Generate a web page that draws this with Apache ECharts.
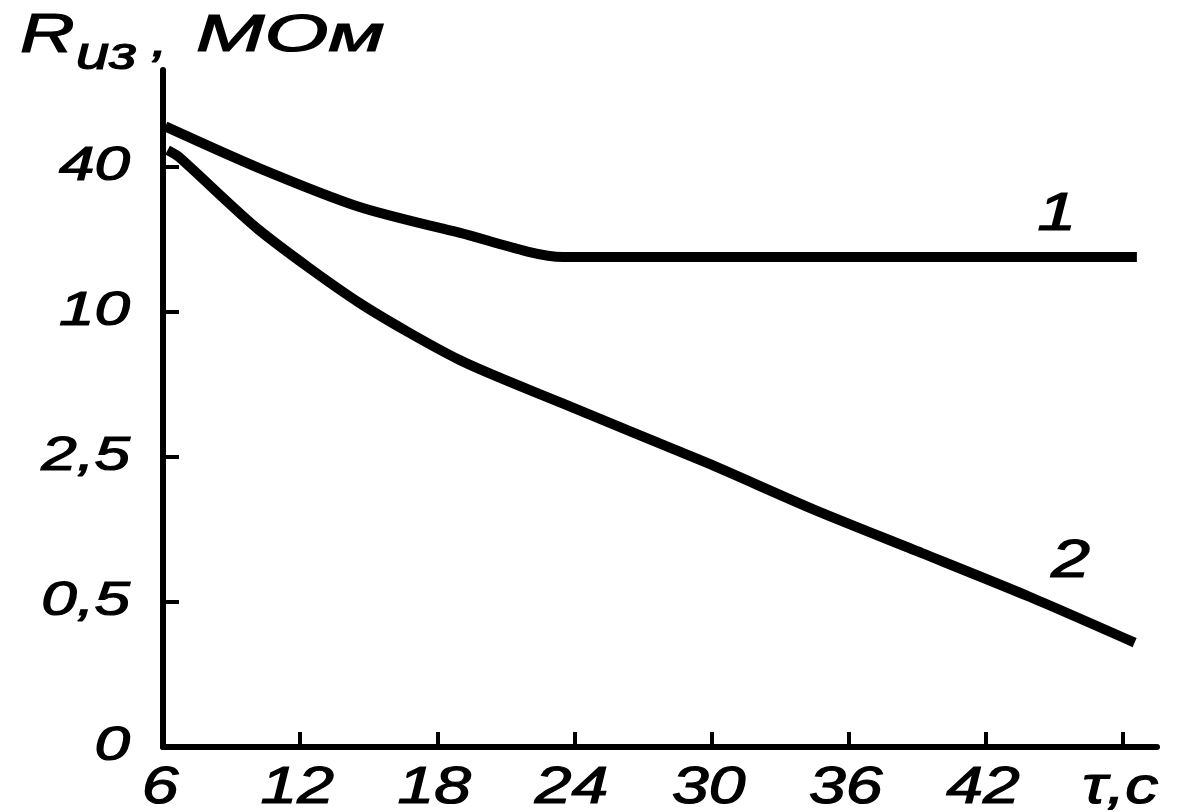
<!DOCTYPE html>
<html>
<head>
<meta charset="utf-8">
<script src="https://cdn.jsdelivr.net/npm/echarts@6/dist/echarts.min.js"></script>
<style>
  html, body { margin: 0; padding: 0; background: #fff; }
  #chart { width: 1186px; height: 812px; }
</style>
</head>
<body>
<div id="chart"></div>
<script>
// time axis, s
var xTicks = [6, 12, 18, 24, 30, 36, 42, 48];
var xTickLabels = ['6', '12', '18', '24', '30', '36', '42', 'τ,c'];
// resistance axis is not linear: each label sits one step higher
var yTickValues = [0, 0.5, 2.5, 10, 40];
var yTickLabels = ['0', '0,5', '2,5', '10', '40'];

// curve 1, [t, R MOm]
var curve1 = [
  [6.1, 59], [10.2, 39.6], [14.6, 27.3], [19.0, 21.3], [23.5, 16.9], [48.6, 16.9]
];
// curve 2, [t, R MOm]
var curve2 = [
  [6.2, 47], [6.7, 44], [10.2, 21.9], [14.6, 10.9], [19.0, 6.3], [23.4, 4.2],
  [29.8, 2.34], [34.5, 1.39], [39.2, 0.86], [43.9, 0.53], [48.5, 0.36]
];
// curve numbers and where they are written
var curveNames = ['1', '2'];
var namePoints = [[45.1, 25.3], [45.7, 0.78]];

// value in MOm -> step on the drawn axis (log inside each step, linear below 0,5)
function toAxis(v) {
  for (var i = 1; i < yTickValues.length; i++) {
    var a = yTickValues[i - 1], b = yTickValues[i];
    if (v <= b || i == yTickValues.length - 1) {
      if (a == 0) return (i - 1) + v / b;
      return (i - 1) + Math.log(v / a) / Math.log(b / a);
    }
  }
}
function mapCurve(c) {
  return c.map(function (p) { return [p[0], toAxis(p[1])]; });
}
var yTickSteps = yTickValues.map(function (v, i) { return i; });

var family = '"Liberation Sans", Arial, sans-serif';
var chart = echarts.init(document.getElementById('chart'), null, { renderer: 'canvas' });

// the lettering in the picture is wide, so text is stretched sideways
function txt(str, x, y, size, sx, align) {
  return {
    type: 'text',
    x: x, y: y,
    scaleX: sx,
    silent: true,
    style: {
      text: str,
      fontFamily: family,
      fontStyle: 'italic',
      fontSize: size,
      fill: '#000',
      stroke: '#000',
      lineWidth: 1.2,
      align: align, textAlign: align,
      verticalAlign: 'middle', textVerticalAlign: 'middle'
    }
  };
}

var option = {
  backgroundColor: '#fff',
  animation: false,
  grid: { left: 163, top: 70, right: 29, bottom: 65, containLabel: false },
  xAxis: {
    type: 'value',
    min: 6,
    max: 49.48,
    axisLine: { show: true, lineStyle: { color: '#000', width: 6 } },
    axisTick: {
      show: true, inside: true, length: 15,
      customValues: xTicks,
      lineStyle: { color: '#000', width: 4 }
    },
    axisLabel: { show: false },
    splitLine: { show: false }
  },
  yAxis: {
    type: 'value',
    min: 0,
    max: 4.669,
    axisLine: { show: true, lineStyle: { color: '#000', width: 6 } },
    // inside ticks would not turn to the right here; drawn below instead
    axisTick: { show: false },
    axisLabel: { show: false },
    splitLine: { show: false }
  },
  series: [
    {
      name: curveNames[0],
      type: 'line',
      data: mapCurve(curve1),
      smooth: 0.25,
      showSymbol: false,
      lineStyle: { color: '#000', width: 10 }
    },
    {
      name: curveNames[1],
      type: 'line',
      data: mapCurve(curve2),
      smooth: 0.25,
      showSymbol: false,
      lineStyle: { color: '#000', width: 10 }
    }
  ]
};

chart.setOption(option);

// labels and y ticks placed from the axes' own scales
var labels = [];
xTicks.forEach(function (t, i) {
  var p = chart.convertToPixel({ gridIndex: 0 }, [t, 0]);
  labels.push(txt(xTickLabels[i], p[0] - 3, p[1] + 42, 52, 1.27, 'center'));
});
yTickSteps.forEach(function (s, i) {
  var p = chart.convertToPixel({ gridIndex: 0 }, [6, s]);
  labels.push(txt(yTickLabels[i], p[0] - 33, p[1], 48, 1.33, 'right'));
  if (i > 0) {
    labels.push({
      type: 'line', silent: true,
      shape: { x1: p[0], y1: p[1], x2: p[0] + 16, y2: p[1] },
      style: { stroke: '#000', lineWidth: 4 }
    });
  }
});
namePoints.forEach(function (np, i) {
  var p = chart.convertToPixel({ gridIndex: 0 }, [np[0], toAxis(np[1])]);
  labels.push(txt(curveNames[i], p[0], p[1], 54, 1.3, 'center'));
});
// axis title: R with subscript "из", then ", МОм"
labels.push(txt('R', 20, 36, 56, 1.35, 'left'));
labels.push(txt('из', 76, 56, 46, 1.3, 'left'));
labels.push(txt(',', 151, 43, 46, 1.3, 'left'));
labels.push(txt('МОм', 196, 37, 52, 1.58, 'left'));

chart.setOption({ graphic: { elements: labels } });
</script>
</body>
</html>
